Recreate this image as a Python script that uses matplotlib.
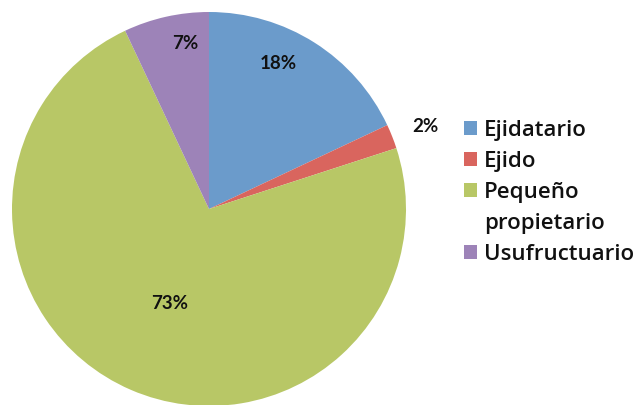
import matplotlib
matplotlib.use("Agg")
import matplotlib.pyplot as plt
from matplotlib.patches import Patch

# data
categories = ["Ejidatario", "Ejido", "Pequeño propietario", "Usufructuario"]
shares = [18, 2, 73, 7]
colors = ["#6b9bcb", "#d9655e", "#b8c766", "#9d83b8"]

# where the percentage labels sit (pie radius units)
label_x = [0.35, 1.10, -0.20, -0.12]
label_y = [0.74, 0.42, -0.48, 0.84]

plt.rcParams['font.family'] = ['Lato', 'DejaVu Sans']

fig = plt.figure(figsize=(6.38, 4.05), dpi=100)
ax = fig.add_axes([12/638, -1/405, 394/638, 394/405])

wedges, _ = ax.pie(shares, colors=colors, startangle=90, counterclock=False,
                   radius=1.0, wedgeprops=dict(linewidth=0))
ax.set_xlim(-1, 1)
ax.set_ylim(-1, 1)
ax.set_aspect('equal')

for v, x, y in zip(shares, label_x, label_y):
    ax.text(x, y, f"{v}%", ha='center', va='center', fontsize=13.5,
            fontweight='bold', color='#111111')

# legend: the long label wraps onto a second row with no swatch
handles, texts = [], []
for w, name in zip(wedges, categories):
    if name == "Pequeño propietario":
        first, second = name.split(" ")
        handles += [w, Patch(facecolor='none', edgecolor='none')]
        texts += [first, second]
    else:
        handles.append(w)
        texts.append(name)

leg = fig.legend(handles, texts, loc='upper left',
                 bbox_to_anchor=(444/638, 1 - 100/405), frameon=False,
                 prop=dict(family='Open Sans', size=16, weight='semibold'),
                 handlelength=0.6, handleheight=0.6,
                 handletextpad=0.3, labelspacing=0.45)
for t in leg.get_texts():
    t.set_color('#111111')

fig.savefig("out.png", dpi=100)
